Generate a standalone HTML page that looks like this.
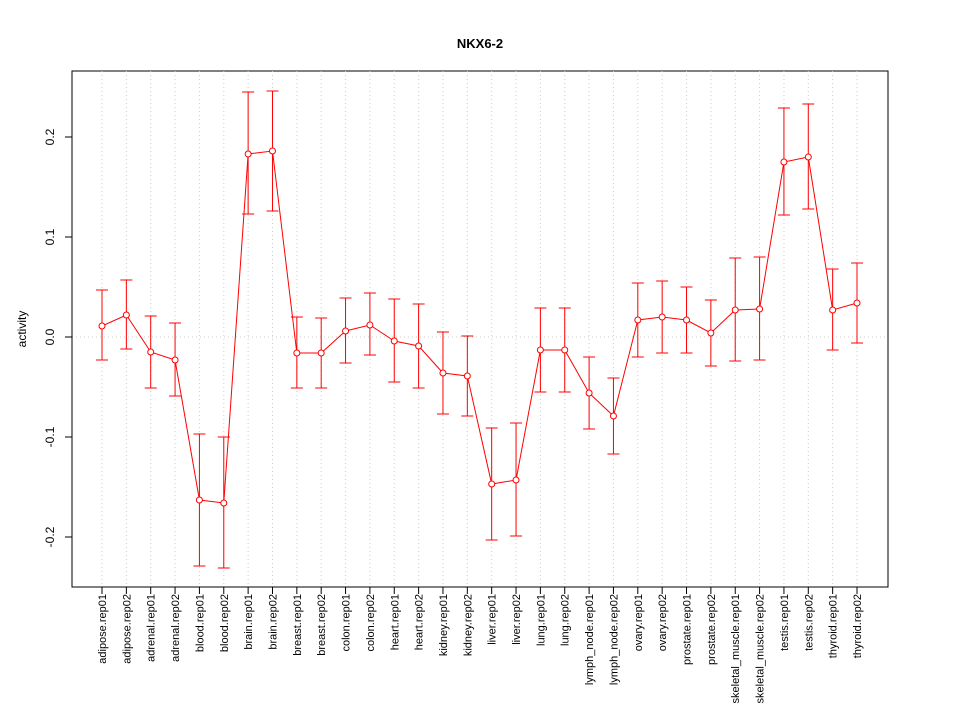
<!DOCTYPE html>
<html><head><meta charset="utf-8"><style>
body{margin:0;background:#fff}
svg{display:block;font-family:"Liberation Sans",sans-serif}
</style></head><body>
<svg id="chart" width="960" height="720">
<text x="480" y="48" text-anchor="middle" font-weight="bold" font-size="13">NKX6-2</text>
<text transform="translate(26,329) rotate(-90)" text-anchor="middle" font-size="12">activity</text>
<rect x="72" y="71" width="816" height="516" fill="none" stroke="#000"/>
<g id="grid"></g><g id="axes"></g><g id="series"></g>
</svg>
<script>
const categories=["adipose.rep01","adipose.rep02","adrenal.rep01","adrenal.rep02","blood.rep01","blood.rep02","brain.rep01","brain.rep02","breast.rep01","breast.rep02","colon.rep01","colon.rep02","heart.rep01","heart.rep02","kidney.rep01","kidney.rep02","liver.rep01","liver.rep02","lung.rep01","lung.rep02","lymph_node.rep01","lymph_node.rep02","ovary.rep01","ovary.rep02","prostate.rep01","prostate.rep02","skeletal_muscle.rep01","skeletal_muscle.rep02","testis.rep01","testis.rep02","thyroid.rep01","thyroid.rep02"];
const values=[0.011,0.022,-0.015,-0.023,-0.163,-0.166,0.183,0.186,-0.016,-0.016,0.006,0.012,-0.004,-0.009,-0.036,-0.039,-0.147,-0.143,-0.013,-0.013,-0.056,-0.079,0.017,0.020,0.017,0.004,0.027,0.028,0.175,0.180,0.027,0.034];
const upper=[0.047,0.057,0.021,0.014,-0.097,-0.100,0.245,0.246,0.020,0.019,0.039,0.044,0.038,0.033,0.005,0.001,-0.091,-0.086,0.029,0.029,-0.020,-0.041,0.054,0.056,0.050,0.037,0.079,0.080,0.229,0.233,0.068,0.074];
const lower=[-0.023,-0.012,-0.051,-0.059,-0.229,-0.231,0.123,0.126,-0.051,-0.051,-0.026,-0.018,-0.045,-0.051,-0.077,-0.079,-0.203,-0.199,-0.055,-0.055,-0.092,-0.117,-0.020,-0.016,-0.016,-0.029,-0.024,-0.023,0.122,0.128,-0.013,-0.006];
const yTicks=[-0.2,-0.1,0.0,0.1,0.2];
const yTickLabels=["-0.2","-0.1","0.0","0.1","0.2"];
const NS="http://www.w3.org/2000/svg";
const xS=i=>102+i*(857-102)/(categories.length-1);
const yS=v=>337-v*1000;
function mk(tag,attrs,parent){const e=document.createElementNS(NS,tag);for(const k in attrs)e.setAttribute(k,attrs[k]);document.getElementById(parent).appendChild(e);return e;}
categories.forEach((c,i)=>{
 const g=mk("line",{x1:xS(i),x2:xS(i),y1:71,y2:587,stroke:"#ccc","stroke-dasharray":"1,3"},"grid");
 
 
 const t=mk("line",{x1:xS(i),x2:xS(i),y1:587,y2:594,stroke:"#000"},"axes");
 
 
 const l=mk("text",{transform:`translate(${xS(i)+4},594) rotate(-90)`,"text-anchor":"end","font-size":"11"},"axes");
 l.textContent=c;
 
 
});
const h=mk("line",{x1:72,x2:888,y1:yS(0),y2:yS(0),stroke:"#ccc","stroke-dasharray":"1,3"},"grid");


mk("line",{x1:72,x2:72,y1:yS(0.2),y2:yS(-0.2),stroke:"#000"},"axes");
yTicks.forEach((v,i)=>{
 const t=mk("line",{x1:65,x2:72,y1:yS(v),y2:yS(v),stroke:"#000"},"axes");
 
 
 const l=mk("text",{transform:`translate(54,${yS(v)}) rotate(-90)`,"text-anchor":"middle","font-size":"12"},"axes");
 l.textContent=yTickLabels[i];
 
 
});
const pl=mk("polyline",{points:values.map((v,i)=>xS(i)+","+yS(v)).join(" "),fill:"none",stroke:"#f00"},"series");


values.forEach((v,i)=>{
 const x=xS(i);
 const e=mk("path",{d:`M${x},${yS(upper[i])}V${yS(lower[i])}M${x-6},${yS(upper[i])}H${x+6}M${x-6},${yS(lower[i])}H${x+6}`,stroke:"#f00",fill:"none"},"series");
 
 
 const p=mk("circle",{cx:x,cy:yS(v),r:3,fill:"#fff",stroke:"#f00"},"series");
 
 
});
</script>
</body></html>
